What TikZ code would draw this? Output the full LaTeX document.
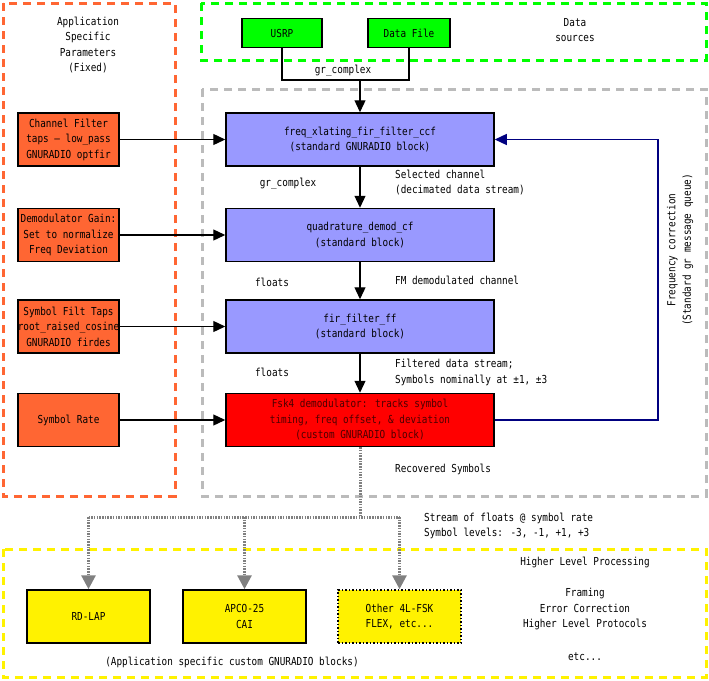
\documentclass[tikz,border=0pt]{standalone}
\usepackage{fontspec}
\setmainfont{DejaVu Sans Mono}[FakeStretch=0.85]
\usetikzlibrary{arrows.meta}
\definecolor{org}{HTML}{FF6633}
\definecolor{blu}{HTML}{9999FF}
\definecolor{gry}{HTML}{BBBBBB}
\definecolor{nav}{HTML}{000080}
\begin{document}
\begin{tikzpicture}[x=1pt,y=-1pt,font=\fontsize{11}{15.5}\selectfont,
 blk/.style={draw=black,line width=1.5pt,inner sep=0pt,align=center},
 lbl/.style={align=center,inner sep=0pt},
 lft/.style={align=left,inner sep=0pt,anchor=west},
 arr/.style={line width=1.3pt,-{Triangle[length=12pt,width=11pt]}},
 grp/.style={line width=3pt,dash pattern=on 8pt off 6pt}]
\useasboundingbox (0,0) rectangle (709,680);
% group boxes
\draw[grp,draw=org] (3,3) rectangle (175,496);
\draw[grp,draw=green] (201,3) rectangle (706,60);
\draw[grp,draw=gry] (202,89) rectangle (706,496);
\draw[grp,draw=yellow] (3,549) rectangle (706,677);
% group labels
\node[lbl] (app) at (88,45) {Application\\Specific\\Parameters\\(Fixed)};
\node[lbl] (ds) at (575,30) {Data\\sources};
% sources
\node[blk,fill=green,minimum width=80pt,minimum height=29pt] (usrp) at (282,33) {USRP};
\node[blk,fill=green,minimum width=82pt,minimum height=29pt] (file) at (409,33) {Data File};
\coordinate (j1) at (282,80); \coordinate (j2) at (409,80); \coordinate (jm) at (360,80);
\draw[line width=1.3pt] (usrp.south) -- (j1) -- (j2) -- (file.south);
\node[lbl] (gc0) at (343,71) {gr\_complex};
% main blocks
\tikzset{mb/.style={blk,minimum width=268pt,minimum height=53pt}}
\node[mb,fill=blu] (freq) at (360,139.5) {freq\_xlating\_fir\_filter\_ccf\\(standard GNURADIO block)};
\node[mb,fill=blu] (quad) at (360,235) {quadrature\_demod\_cf\\(standard block)};
\node[mb,fill=blu] (fir) at (360,326.5) {fir\_filter\_ff\\(standard block)};
\node[mb,fill=red,text=black!70!red] (fsk) at (360,420) {Fsk4 demodulator: tracks symbol\\timing, freq offset, \& deviation\\(custom GNURADIO block)};
\draw[arr] (jm) -- (freq.north);
\draw[arr] (freq) -- (quad);
\draw[arr] (quad) -- (fir);
\draw[arr] (fir) -- (fsk);
% left param boxes
\tikzset{pb/.style={blk,fill=org,minimum width=101pt,minimum height=53pt}}
\node[pb] (p1) at (68.5,139.5) {Channel Filter\\taps -- low\_pass\\GNURADIO optfir};
\node[pb] (p2) at (68.5,235) {Demodulator Gain:\\Set to normalize\\Freq Deviation};
\node[pb] (p3) at (68.5,326.5) {Symbol Filt Taps\\root\_raised\_cosine\\GNURADIO firdes};
\node[pb] (p4) at (68.5,420) {Symbol Rate};
\draw[arr] (p1) -- (freq);
\draw[arr] (p2) -- (quad);
\draw[arr] (p3) -- (fir);
\draw[arr] (p4) -- (fsk);
% feedback
\coordinate (f1) at (658,420); \coordinate (f2) at (658,139.5);
\draw[line width=1.3pt,draw=nav,-{Triangle[length=12pt,width=11pt]}] (fsk.east) -- (f1) -- (f2) -- (freq.east);
\node[lbl,rotate=90] (fc) at (680,250) {Frequency correction\\(Standard gr message queue)};
% flow labels
\node[lbl] (l1) at (288,184) {gr\_complex};
\node[lft] (l2) at (395,182.5) {Selected channel\\(decimated data stream)};
\node[lbl] (l3) at (272,282) {floats};
\node[lft] (l4) at (395,280) {FM demodulated channel};
\node[lbl] (l5) at (272,372) {floats};
\node[lft] (l6) at (395,372.5) {Filtered data stream;\\Symbols nominally at ±1, ±3};
\node[lft] (l7) at (395,469) {Recovered Symbols};
\node[lft] (l8) at (424,526) {Stream of floats @ symbol rate\\Symbol levels: -3, -1, +1, +3};
% outputs
\tikzset{ob/.style={blk,fill=yellow,minimum width=123pt,minimum height=53pt}}
\node[ob] (rd) at (88.5,616.5) {RD-LAP};
\node[ob] (apco) at (244.5,616.5) {APCO-25\\CAI};
\node[ob,dotted,line width=1.5pt] (oth) at (399.5,616.5) {Other 4L-FSK\\FLEX, etc...};
\coordinate (d0) at (360,517); \coordinate (d1) at (88.5,517);
\coordinate (d2) at (244.5,517); \coordinate (d3) at (399.5,517);
\tikzset{dt/.style={draw=gray,line width=3pt,dash pattern=on 1.5pt off 1.2pt}}
\draw[dt] (fsk.south) -- (d0);
\draw[dt] (d1) -- (d3);
\draw[dt,-{Triangle[length=14pt,width=14pt,fill=gray]}] (d1) -- (rd.north);
\draw[dt,-{Triangle[length=14pt,width=14pt,fill=gray]}] (d2) -- (apco.north);
\draw[dt,-{Triangle[length=14pt,width=14pt,fill=gray]}] (d3) -- (oth.north);
\node[lbl] (ac) at (232,662) {(Application specific custom GNURADIO blocks)};
\node[lbl] (h1) at (585,562) {Higher Level Processing};
\node[lbl] (h2) at (585,609) {Framing\\Error Correction\\Higher Level Protocols};
\node[lbl] (h3) at (585,657) {etc...};
\end{tikzpicture}
\end{document}
